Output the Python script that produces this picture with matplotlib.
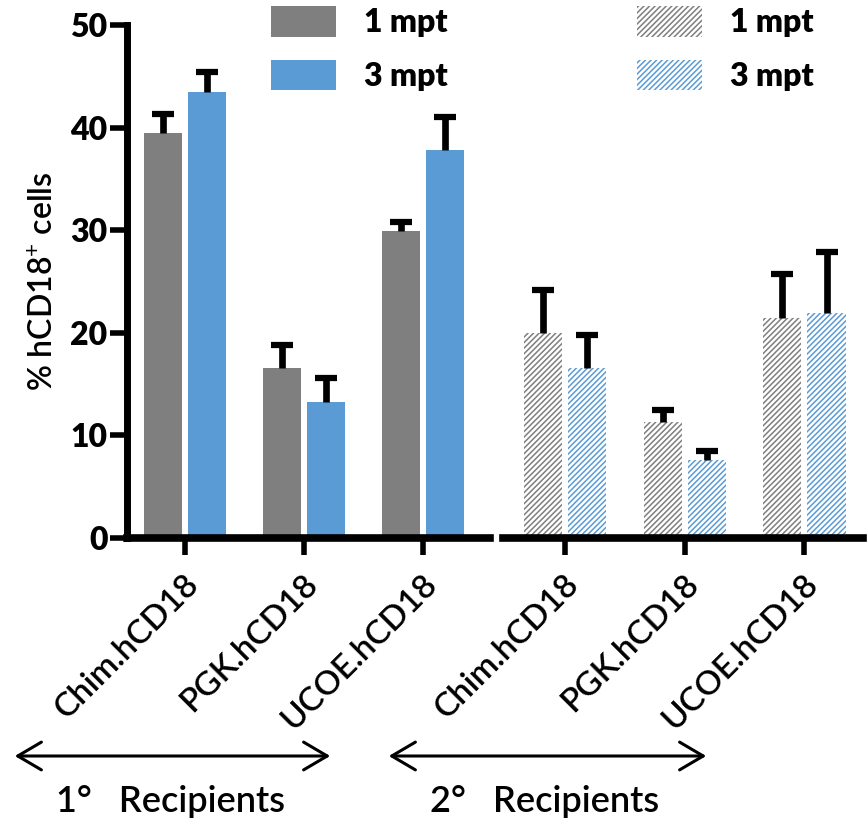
import numpy as np
import matplotlib
matplotlib.use("Agg")
import matplotlib.pyplot as plt
from matplotlib.patches import Patch, FancyArrowPatch
from matplotlib.transforms import ScaledTranslation

plt.rcParams['font.family'] = ['Lato', 'DejaVu Sans']
plt.rcParams['mathtext.fontset'] = 'custom'
plt.rcParams['mathtext.rm'] = 'Lato'
plt.rcParams['hatch.linewidth'] = 1.1

# data
constructs = ["Chim.hCD18", "PGK.hCD18", "UCOE.hCD18"]
series = ["1 mpt", "3 mpt"]

primary_1mpt = [39.5, 16.6, 29.9]
primary_1mpt_err = [1.8, 2.2, 0.9]
primary_3mpt = [43.5, 13.3, 37.8]
primary_3mpt_err = [1.9, 2.3, 3.2]

secondary_1mpt = [20.0, 11.3, 21.4]
secondary_1mpt_err = [4.2, 1.2, 4.3]
secondary_3mpt = [16.6, 7.6, 21.9]
secondary_3mpt_err = [3.2, 0.9, 6.0]

gray = '#7f7f7f'
blue = '#5b9bd5'
width = 0.32
offset = 0.185

fig = plt.figure(figsize=(8.67, 8.21), dpi=100)
ax1 = fig.add_axes([0.1465, 0.3447, 0.4187, 0.6248])
ax2 = fig.add_axes([0.5802, 0.3447, 0.4152, 0.6248])

x = np.arange(len(constructs))


def draw_group(ax, v1, e1, v3, e3, hatched):
    for vals, errs, col, sign in [(v1, e1, gray, -1), (v3, e3, blue, 1)]:
        xs = x + sign * offset
        if hatched:
            ax.bar(xs, vals, width, facecolor='white', edgecolor=col,
                   hatch='//////', linewidth=0, zorder=2)
        else:
            ax.bar(xs, vals, width, color=col, linewidth=0, zorder=2)
        eb = ax.errorbar(xs, vals, yerr=[np.zeros(len(errs)), errs], fmt='none',
                         ecolor='black', elinewidth=4.8, capsize=8, capthick=4.5,
                         zorder=3)
        # only the upper cap, like a one sided SEM bar
        eb[1][0].set_visible(False)


draw_group(ax1, primary_1mpt, primary_1mpt_err, primary_3mpt, primary_3mpt_err, False)
draw_group(ax2, secondary_1mpt, secondary_1mpt_err, secondary_3mpt, secondary_3mpt_err, True)

ax1.set_xlim(-0.487, 2.56)
ax2.set_xlim(-0.52, 2.49)
for ax in (ax1, ax2):
    ax.set_ylim(0, 50)
    ax.spines['top'].set_visible(False)
    ax.spines['right'].set_visible(False)
    ax.spines['bottom'].set_linewidth(5.5)
    ax.set_xticks(x)
    ax.set_xticklabels(constructs, rotation=45, ha='right', va='center',
                       rotation_mode='anchor', fontsize=24, fontweight='semibold')
    ax.tick_params(axis='x', direction='out', length=12, width=4, pad=4)
    for lbl in ax.get_xticklabels():
        lbl.set_transform(lbl.get_transform() + ScaledTranslation(0.09, -0.19, fig.dpi_scale_trans))

ax1.spines['left'].set_linewidth(5)
ax1.set_yticks([0, 10, 20, 30, 40, 50])
ax1.tick_params(axis='y', direction='out', length=12, width=4, pad=2, labelsize=23)
for lbl in ax1.get_yticklabels():
    lbl.set_fontweight('heavy')
ax1.set_ylabel('% hCD18$^{+}$ cells', fontsize=23, fontweight='semibold', labelpad=8)

ax2.spines['left'].set_visible(False)
ax2.set_yticks([])

# legends
solid_handles = [Patch(facecolor=gray, linewidth=0), Patch(facecolor=blue, linewidth=0)]
hatch_handles = [Patch(facecolor='white', edgecolor=gray, hatch='//////', linewidth=0),
                 Patch(facecolor='white', edgecolor=blue, hatch='//////', linewidth=0)]
legend_kw = dict(frameon=False, loc='upper left', borderpad=0, borderaxespad=0,
                 handlelength=2.05, handleheight=1.1, labelspacing=0.7,
                 handletextpad=0.85, prop={'size': 23, 'weight': 'heavy'})
fig.legend(solid_handles, series, bbox_to_anchor=(271 / 867, 1 - 6 / 821), **legend_kw)
fig.legend(hatch_handles, series, bbox_to_anchor=(637 / 867, 1 - 6 / 821), **legend_kw)

# recipient arrows
arrow_y = 1 - 756 / 821
for x0, x1 in [(12 / 867, 333 / 867), (386 / 867, 709 / 867)]:
    fig.patches.append(FancyArrowPatch((x0, arrow_y), (x1, arrow_y), transform=fig.transFigure,
                                       arrowstyle='<->,head_length=17,head_width=10',
                                       mutation_scale=1, linewidth=2.2, color='black'))

fig.text(170 / 867, 1 - 801 / 821, '1°   Recipients', fontsize=26, fontweight='semibold',
         ha='center', va='center')
fig.text(545 / 867, 1 - 801 / 821, '2°   Recipients', fontsize=26, fontweight='semibold',
         ha='center', va='center')

fig.savefig('out.png', dpi=100)
